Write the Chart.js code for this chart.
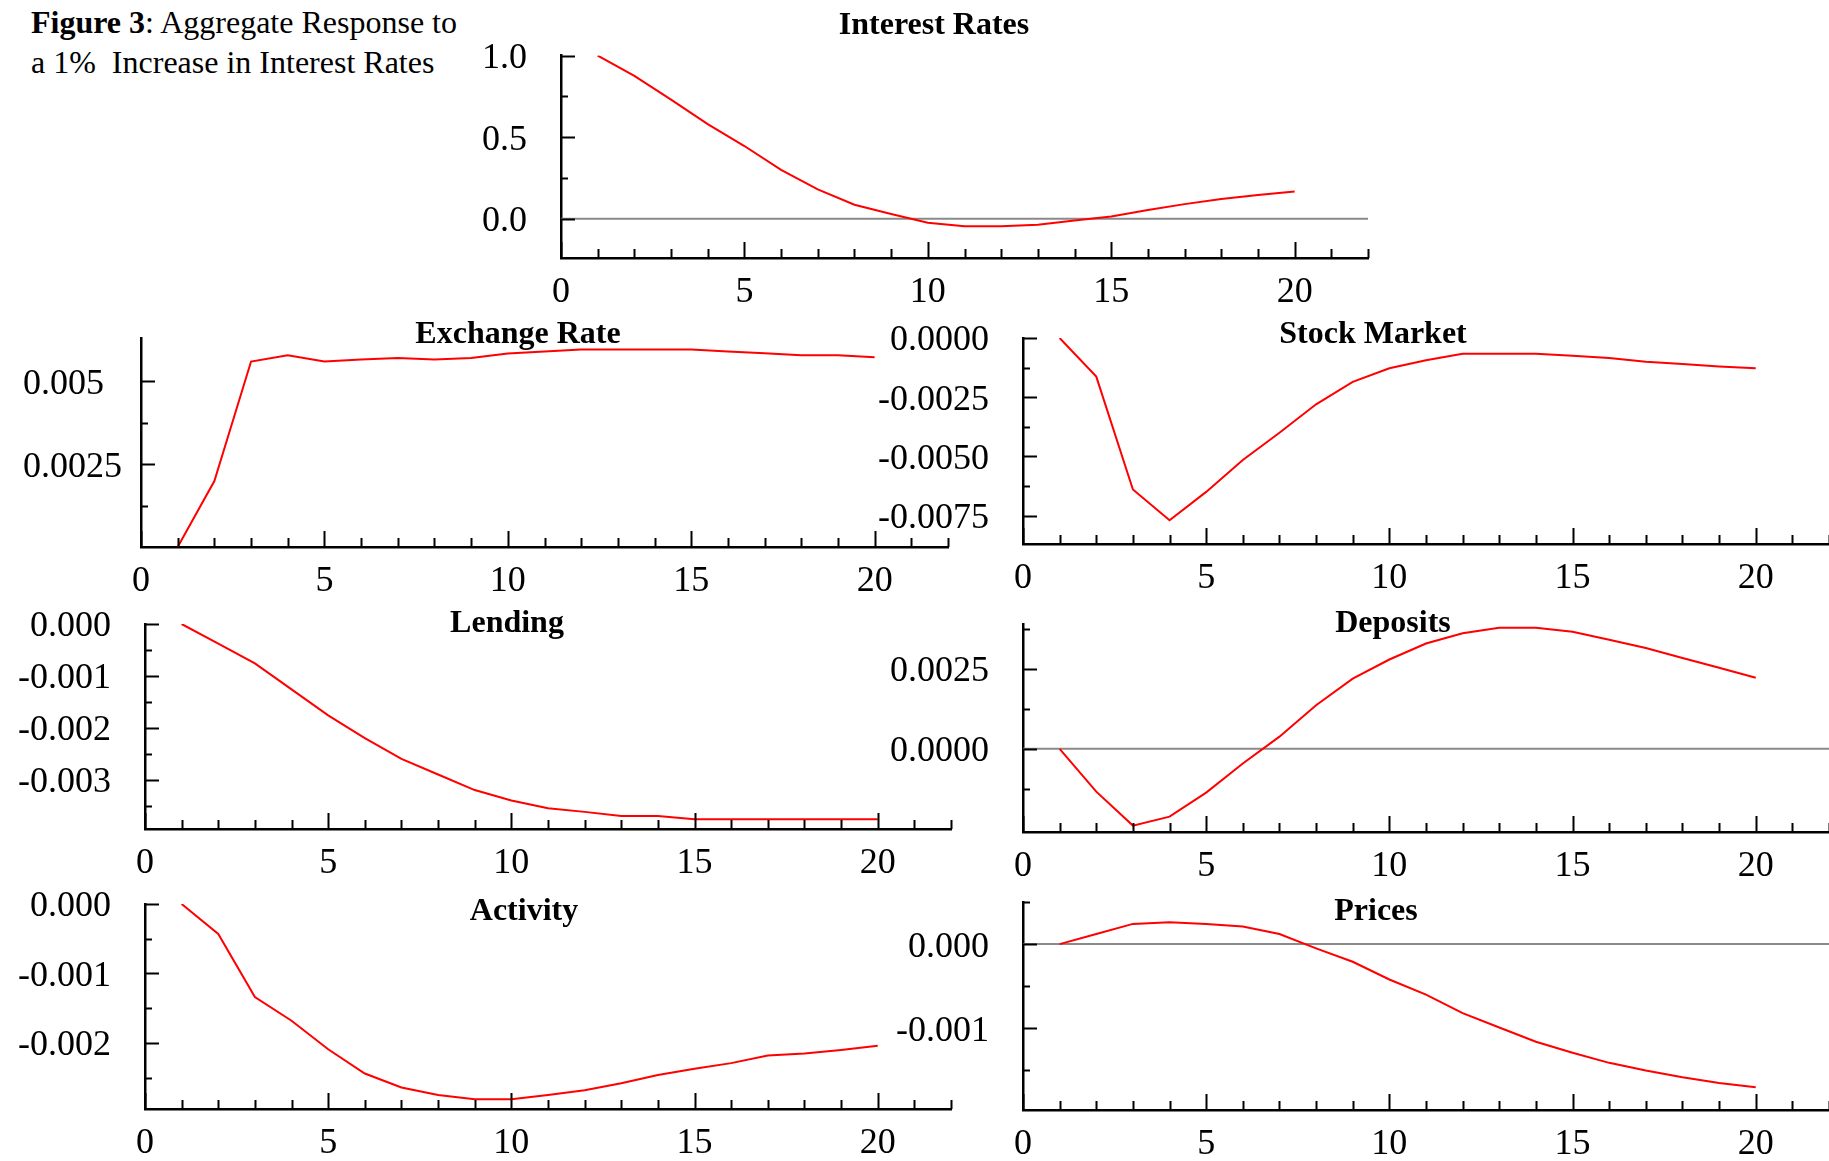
<!DOCTYPE html>
<html>
<head>
<meta charset="utf-8">
<title>Figure 3</title>
<script src="https://cdn.jsdelivr.net/npm/chart.js@4.4.0/dist/chart.umd.min.js"></script>
<style>
  html, body { margin: 0; padding: 0; background: #fff; }
  #page { position: relative; width: 1829px; height: 1161px; overflow: hidden; font-family: 'Liberation Serif', 'Times New Roman', serif; color: #000; }
  #page canvas { position: absolute; left: 0; top: 0; }
  .title { position: absolute; font-weight: bold; font-size: 32px; transform: translate(-50%, -50%); white-space: nowrap; }
  .caption { position: absolute; left: 31px; font-size: 32px; white-space: pre; transform: translateY(-50%); }
</style>
</head>
<body>
<div id="page">
  <div class="caption" style="top:22px"><b>Figure 3</b>: Aggregate Response to</div>
  <div class="caption" style="top:62px">a 1%  Increase in Interest Rates</div>
</div>
<script>
// Impulse responses, periods 1..20
const periods = [1, 2, 3, 4, 5, 6, 7, 8, 9, 10, 11, 12, 13, 14, 15, 16, 17, 18, 19, 20];

const interestRates = [1.0, 0.876, 0.73, 0.58, 0.446, 0.30, 0.18, 0.086, 0.03, -0.024,
    -0.045, -0.045, -0.036, -0.01, 0.014, 0.054, 0.09, 0.122, 0.146, 0.168];
const exchangeRate = [0.0, 0.00199, 0.00559, 0.00578, 0.00559, 0.00565, 0.0057, 0.00565, 0.0057, 0.00583,
    0.00589, 0.00595, 0.00595, 0.00595, 0.00595, 0.00589, 0.00584, 0.00578, 0.00578, 0.00572];
const stockMarket = [0.0, -0.00163, -0.0064, -0.0077, -0.0065, -0.00515, -0.0040, -0.0028, -0.00185, -0.00128,
    -0.00094, -0.00067, -0.00067, -0.00067, -0.00075, -0.00084, -0.001, -0.0011, -0.0012, -0.00128];
const lending = [0.0, -0.00038, -0.00076, -0.00126, -0.00176, -0.0022, -0.0026, -0.0029, -0.0032, -0.0034,
    -0.00355, -0.00362, -0.0037, -0.0037, -0.00376, -0.00376, -0.00376, -0.00376, -0.00376, -0.00376];
const deposits = [0.0, -0.00134, -0.0024, -0.00212, -0.00137, -0.00046, 0.00038, 0.00136, 0.00219, 0.00279,
    0.00329, 0.00361, 0.00378, 0.00378, 0.00366, 0.00341, 0.00315, 0.00284, 0.00253, 0.00222];
const activity = [0.0, -0.00043, -0.00134, -0.00168, -0.00209, -0.00244, -0.00264, -0.00275, -0.00281, -0.00281,
    -0.00275, -0.00268, -0.00258, -0.00246, -0.00237, -0.00229, -0.00218, -0.00215, -0.0021, -0.00204];
const prices = [0.0, 0.00012, 0.00024, 0.00026, 0.00024, 0.00021, 0.00012, -0.00005, -0.00021, -0.00042,
    -0.0006, -0.00082, -0.00099, -0.00116, -0.00129, -0.00141, -0.0015, -0.00158, -0.00165, -0.0017];

// x axis
const xTickValues = [0, 5, 10, 15, 20];
const xTickLabels = ['0', '5', '10', '15', '20'];

// y axes: labelled ticks, their labels, unlabelled minor ticks
const interestTicks = [0, 0.5, 1.0];
const interestLabels = ['0.0', '0.5', '1.0'];
const interestMinor = [0.25, 0.75];

const exchangeTicks = [0.0025, 0.005];
const exchangeLabels = ['0.0025', '0.005'];
const exchangeMinor = [0.00125, 0.00375];

const stockTicks = [-0.0075, -0.005, -0.0025, 0];
const stockLabels = ['-0.0075', '-0.0050', '-0.0025', '0.0000'];
const stockMinor = [-0.00625, -0.00375, -0.00125];

const lendingTicks = [-0.003, -0.002, -0.001, 0];
const lendingLabels = ['-0.003', '-0.002', '-0.001', '0.000'];
const lendingMinor = [-0.0035, -0.0025, -0.0015, -0.0005];

const depositsTicks = [0, 0.0025];
const depositsLabels = ['0.0000', '0.0025'];
const depositsMinor = [-0.00125, 0.00125, 0.00375];

const activityTicks = [-0.002, -0.001, 0];
const activityLabels = ['-0.002', '-0.001', '0.000'];
const activityMinor = [-0.0025, -0.0015, -0.0005];

const pricesTicks = [-0.001, 0];
const pricesLabels = ['-0.001', '0.000'];
const pricesMinor = [-0.0015, -0.0005, 0.0005];

// panel setup: plot box in page pixels, y range, title position
const panels = [
    { title: 'Interest Rates', values: interestRates, ticks: interestTicks, labels: interestLabels, minor: interestMinor,
      yMin: -0.24, yMax: 1.0, zero: true, box: [561, 52, 1368, 258], titleAt: [934, 23] },
    { title: 'Exchange Rate', values: exchangeRate, ticks: exchangeTicks, labels: exchangeLabels, minor: exchangeMinor,
      yMin: 0, yMax: 0.0063, zero: false, box: [141, 338, 948, 547], titleAt: [518, 332],
      axisW: 118, align: 'far' },
    { title: 'Stock Market', values: stockMarket, ticks: stockTicks, labels: stockLabels, minor: stockMinor,
      yMin: -0.0087, yMax: 0, zero: false, box: [1023, 338, 1829, 544], titleAt: [1373, 332] },
    { title: 'Lending', values: lending, ticks: lendingTicks, labels: lendingLabels, minor: lendingMinor,
      yMin: -0.00395, yMax: 0, zero: false, box: [145, 624, 951, 829], titleAt: [507, 621] },
    { title: 'Deposits', values: deposits, ticks: depositsTicks, labels: depositsLabels, minor: depositsMinor,
      yMin: -0.0026, yMax: 0.0039, zero: true, box: [1023, 624, 1829, 832], titleAt: [1393, 621] },
    { title: 'Activity', values: activity, ticks: activityTicks, labels: activityLabels, minor: activityMinor,
      yMin: -0.00295, yMax: 0, zero: false, box: [145, 904, 951, 1109], titleAt: [524, 909] },
    { title: 'Prices', values: prices, ticks: pricesTicks, labels: pricesLabels, minor: pricesMinor,
      yMin: -0.00197, yMax: 0.0005, zero: true, box: [1023, 902, 1829, 1110], titleAt: [1376, 909] }
];

const PAGE_W = 1829;
const CANVAS_H = 1240;   // taller than the page so bottom-row labels have room
const Y_AXIS_W = 160, X_AXIS_H = 70;

Chart.defaults.font.family = "'Liberation Serif', 'Times New Roman', serif";
Chart.defaults.color = '#000';

// inward tick marks + grey zero line
const axisMarks = {
    id: 'axisMarks',
    beforeDatasetsDraw(chart, args, opts) {
        if (!opts.zero) return;
        const { ctx, chartArea, scales } = chart;
        const y = scales.y.getPixelForValue(0);
        ctx.save();
        ctx.strokeStyle = '#8a8a8a';
        ctx.lineWidth = 2;
        ctx.beginPath();
        ctx.moveTo(chartArea.left, y);
        ctx.lineTo(chartArea.right, y);
        ctx.stroke();
        ctx.restore();
    },
    afterDraw(chart, args, opts) {
        const { ctx, chartArea, scales } = chart;
        ctx.save();
        ctx.strokeStyle = '#000';
        ctx.lineWidth = 2;
        ctx.beginPath();
        for (let v = scales.x.min; v <= scales.x.max; v++) {
            const px = Math.round(scales.x.getPixelForValue(v)) + 0.5;
            const len = v % 5 === 0 ? 16 : 9;
            ctx.moveTo(px, chartArea.bottom);
            ctx.lineTo(px, chartArea.bottom - len);
        }
        opts.major.forEach(v => {
            const py = Math.round(scales.y.getPixelForValue(v)) + 0.5;
            ctx.moveTo(chartArea.left, py);
            ctx.lineTo(chartArea.left + 14, py);
        });
        opts.minor.forEach(v => {
            const py = Math.round(scales.y.getPixelForValue(v)) + 0.5;
            ctx.moveTo(chartArea.left, py);
            ctx.lineTo(chartArea.left + 7, py);
        });
        ctx.stroke();
        ctx.restore();
    }
};

const page = document.getElementById('page');

panels.forEach(p => {
    const canvas = document.createElement('canvas');
    canvas.width = PAGE_W;
    canvas.height = CANVAS_H;
    canvas.style.width = PAGE_W + 'px';
    canvas.style.height = CANVAS_H + 'px';
    page.appendChild(canvas);

    const t = document.createElement('div');
    t.className = 'title';
    t.textContent = p.title;
    t.style.left = p.titleAt[0] + 'px';
    t.style.top = p.titleAt[1] + 'px';
    page.appendChild(t);

    const [left, top, right, bottom] = p.box;
    const axisW = p.axisW || Y_AXIS_W;

    new Chart(canvas.getContext('2d'), {
        type: 'line',
        data: {
            datasets: [{
                data: periods.map((x, i) => ({ x: x, y: p.values[i] })),
                borderColor: '#ff0000',
                borderWidth: 2,
                pointRadius: 0,
                tension: 0,
                fill: false
            }]
        },
        options: {
            responsive: false,
            animation: false,
            devicePixelRatio: 1,
            layout: {
                padding: {
                    left: left - axisW,
                    top: top,
                    right: PAGE_W - right,
                    bottom: CANVAS_H - bottom - X_AXIS_H
                }
            },
            plugins: {
                legend: { display: false },
                tooltip: { enabled: false },
                title: { display: false },
                axisMarks: { zero: p.zero, major: p.ticks, minor: p.minor }
            },
            scales: {
                x: {
                    type: 'linear',
                    min: 0,
                    max: 22,
                    grid: { display: false, drawTicks: false },
                    border: { display: true, color: '#000', width: 2.5 },
                    afterFit: s => { s.height = X_AXIS_H; },
                    afterBuildTicks: s => { s.ticks = xTickValues.map(v => ({ value: v })); },
                    ticks: {
                        autoSkip: false,
                        maxRotation: 0,
                        padding: 13,
                        font: { size: 36 },
                        callback: (v, i) => xTickLabels[i]
                    }
                },
                y: {
                    type: 'linear',
                    min: p.yMin,
                    max: p.yMax,
                    grid: { display: false, drawTicks: false },
                    border: { display: true, color: '#000', width: 2.5 },
                    afterFit: s => { s.width = axisW; },
                    afterBuildTicks: s => { s.ticks = p.ticks.map(v => ({ value: v })); },
                    ticks: {
                        autoSkip: false,
                        padding: 34,
                        labelOffset: 3,
                        crossAlign: p.align || 'near',
                        font: { size: 36 },
                        callback: (v, i) => p.labels[i]
                    }
                }
            }
        },
        plugins: [axisMarks]
    });
});
</script>
</body>
</html>
